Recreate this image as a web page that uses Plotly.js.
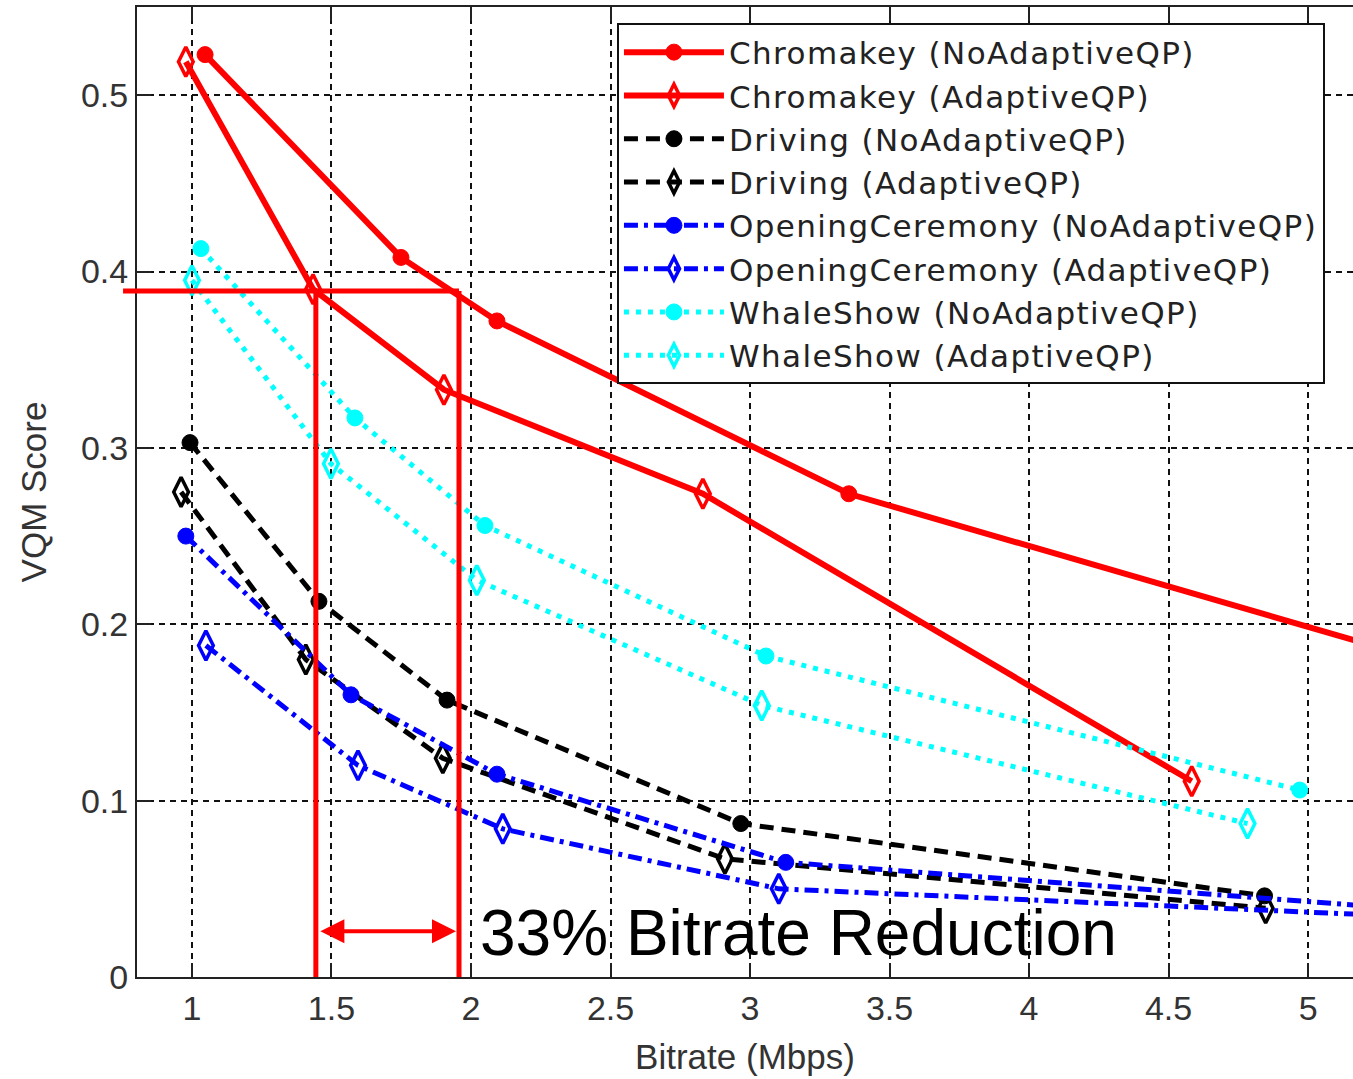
<!DOCTYPE html>
<html>
<head>
<meta charset="utf-8">
<script src="https://cdn.plot.ly/plotly-3.0.1.min.js"></script>
<style>html,body{margin:0;padding:0;background:#fff;}#chart{width:1353px;height:1079px;}
.legendtext{letter-spacing:1.4px;}</style>
</head>
<body>
<div id="chart"></div>
<script>
// ---- data ----
var chromaNoX = [1.047, 1.749, 2.093, 3.354, 5.60];
var chromaNoY = [0.523, 0.408, 0.372, 0.274, 0.171];
var chromaAdX = [0.978, 1.434, 1.903, 2.831, 4.583];
var chromaAdY = [0.519, 0.390, 0.333, 0.274, 0.111];

var drivingNoX = [0.993, 1.455, 1.914, 2.967, 4.844];
var drivingNoY = [0.303, 0.213, 0.157, 0.087, 0.046];
var drivingAdX = [0.961, 1.408, 1.899, 2.910, 4.848];
var drivingAdY = [0.275, 0.180, 0.124, 0.067, 0.039];

var openNoX = [0.978, 1.570, 2.093, 3.128, 5.40];
var openNoY = [0.250, 0.160, 0.115, 0.065, 0.038];
var openAdX = [1.050, 1.595, 2.114, 3.103, 5.40];
var openAdY = [0.188, 0.120, 0.084, 0.050, 0.034];

var whaleNoX = [1.032, 1.584, 2.050, 3.057, 4.970];
var whaleNoY = [0.413, 0.317, 0.256, 0.182, 0.106];
var whaleAdX = [1.000, 1.498, 2.021, 3.042, 4.783];
var whaleAdY = [0.395, 0.291, 0.225, 0.154, 0.087];

var seriesNames = [
  "Chromakey (NoAdaptiveQP)", "Chromakey (AdaptiveQP)",
  "Driving (NoAdaptiveQP)", "Driving (AdaptiveQP)",
  "OpeningCeremony (NoAdaptiveQP)", "OpeningCeremony (AdaptiveQP)",
  "WhaleShow (NoAdaptiveQP)", "WhaleShow (AdaptiveQP)"
];

var xTickVals = [1, 1.5, 2, 2.5, 3, 3.5, 4, 4.5, 5];
var yTickVals = [0, 0.1, 0.2, 0.3, 0.4, 0.5];

// annotation values
var targetScore = 0.389;
var rateAdaptive = 1.444;
var rateNoAdaptive = 1.957;
var guideStartX = 0.753;
var arrowLevel = 0.026;
var reductionText = "33% Bitrate Reduction";
var reductionTextX = 2.025;
var reductionTextY = 0.025;

// ---- styles ----
var xRange = [0.803, 5.161];
var yRange = [0, 0.55];
function xToPaper(v){ return (v - xRange[0]) / (xRange[1] - xRange[0]); }

function mk(x, y, name, color, dash, width, adaptive){
  return {
    x: x, y: y, name: name, type: "scatter", mode: "lines+markers",
    line: {color: color, width: width, dash: dash},
    marker: adaptive
      ? {symbol: "diamond-tall-open", size: 21, color: color, line: {color: color, width: 3.5}}
      : {symbol: "circle", size: 16, color: color, line: {color: color, width: 1}},
    cliponaxis: true
  };
}
var RED = "#ff0000", BLK = "#000000", BLU = "#0000ff", CYA = "#00ffff";
var dashBlack = "14px,8px", dashBlue = "14px,6px,4px,6px", dashCyan = "5px,7px";

var traces = [
  mk(chromaNoX, chromaNoY, seriesNames[0], RED, "solid", 6, false),
  mk(chromaAdX, chromaAdY, seriesNames[1], RED, "solid", 6, true),
  mk(drivingNoX, drivingNoY, seriesNames[2], BLK, dashBlack, 5, false),
  mk(drivingAdX, drivingAdY, seriesNames[3], BLK, dashBlack, 5, true),
  mk(openNoX, openNoY, seriesNames[4], BLU, dashBlue, 5, false),
  mk(openAdX, openAdY, seriesNames[5], BLU, dashBlue, 5, true),
  mk(whaleNoX, whaleNoY, seriesNames[6], CYA, dashCyan, 5, false),
  mk(whaleAdX, whaleAdY, seriesNames[7], CYA, dashCyan, 5, true)
];

var FONT = "Liberation Sans, Arial, Helvetica, sans-serif";
var LEGFONT = "DejaVu Sans, Liberation Sans, sans-serif";
var axisCommon = {
  showgrid: true, gridcolor: "#111", gridwidth: 2, griddash: "6px,5px",
  zeroline: false, showline: true, linecolor: "#222", linewidth: 2,
  ticks: "inside", ticklen: 14, tickwidth: 2, tickcolor: "#222",
  tickfont: {family: FONT, size: 34, color: "#333"},
  automargin: false
};

var layout = {
  width: 1353, height: 1079,
  margin: {l: 137, r: 0, t: 7, b: 102, pad: 0},
  paper_bgcolor: "#fff", plot_bgcolor: "#fff",
  showlegend: true,
  xaxis: Object.assign({}, axisCommon, {
    range: xRange, tickvals: xTickVals, ticktext: xTickVals.map(String),
    mirror: "ticks",
    title: {text: "Bitrate (Mbps)", font: {family: FONT, size: 35, color: "#333"}, standoff: 19}
  }),
  yaxis: Object.assign({}, axisCommon, {
    range: yRange, tickvals: yTickVals, ticktext: yTickVals.map(String),
    mirror: false,
    title: {text: "VQM Score", font: {family: FONT, size: 35, color: "#333"}, standoff: 24}
  }),
  legend: {
    x: 0.3947, y: 0.983,
    xanchor: "left", yanchor: "top",
    bgcolor: "#fff", bordercolor: "#111", borderwidth: 2,
    font: {family: LEGFONT, size: 31, color: "#222"},
    itemwidth: 100, tracegroupgap: 0
  },
  shapes: [
    {type: "line", xref: "paper", yref: "y", x0: xToPaper(guideStartX), x1: xToPaper(rateNoAdaptive),
     y0: targetScore, y1: targetScore, line: {color: RED, width: 5}, layer: "above"},
    {type: "line", xref: "x", yref: "y", x0: rateAdaptive, x1: rateAdaptive,
     y0: 0, y1: targetScore, line: {color: RED, width: 5}, layer: "above"},
    {type: "line", xref: "x", yref: "y", x0: rateNoAdaptive, x1: rateNoAdaptive,
     y0: 0, y1: targetScore, line: {color: RED, width: 5}, layer: "above"}
  ],
  annotations: [
    {x: rateNoAdaptive, y: arrowLevel, ax: rateAdaptive, ay: arrowLevel, xref: "x", yref: "y",
     axref: "x", ayref: "y", text: "", showarrow: true, arrowside: "end+start",
     arrowhead: 2, arrowsize: 1.2, arrowwidth: 4, arrowcolor: RED, standoff: 3, startstandoff: 3},
    {x: reductionTextX, y: reductionTextY, xref: "x", yref: "y", text: reductionText,
     showarrow: false, xanchor: "left", yanchor: "middle",
     font: {family: FONT, size: 64, color: "#000"}}
  ]
};

Plotly.newPlot("chart", traces, layout, {displayModeBar: false, staticPlot: true});
</script>
</body>
</html>
